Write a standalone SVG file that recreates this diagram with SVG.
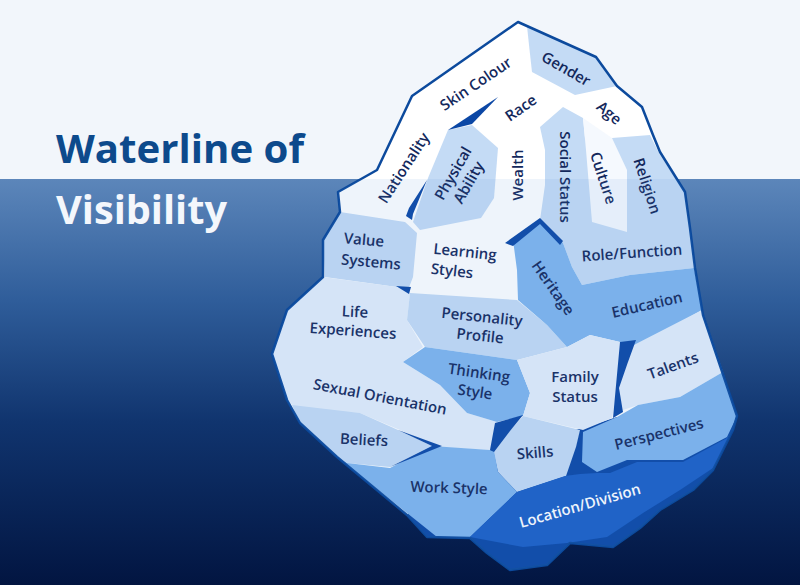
<svg xmlns="http://www.w3.org/2000/svg" width="800" height="585" viewBox="0 0 800 585">
<defs>
<linearGradient id="water" x1="0" y1="0" x2="0" y2="1">
<stop offset="0" stop-color="#5c86ba"/>
<stop offset="0.3" stop-color="#2f5d9a"/>
<stop offset="0.6" stop-color="#10346e"/>
<stop offset="1" stop-color="#021541"/>
</linearGradient>
<clipPath id="berg"><polygon points="518,22 596,57 617,86 642,107 653,135 660,152 685,192 690,228 695,268 703,315 737,416 733,430 713,470 693,490 660,510 640,528 613,547 570,543 547,565 510,570 487,553 470,538 427,537 407,515 337,457 300,423 287,400 272,354 287,310 323,277 323,240 340,212 338,192 377,170 412,96"/></clipPath>
<style>
.lbl{font-family:"Open Sans","Liberation Sans",sans-serif;font-size:15px;font-weight:600;fill:#13285c;text-anchor:middle}
.wt{fill:#ffffff}
.c0{fill:#ffffff}
.c1{fill:#e4eefb}
.c2{fill:#c4dbf5}
.c3{fill:#7fb5ee}
.c4{fill:#1a5ec6}
.cul{fill:#f5f9fe}
.dk{fill:#0b47a5}
.title{font-family:"Open Sans","Liberation Sans",sans-serif;font-size:40px;font-weight:700}
</style>
</defs>
<rect x="0" y="0" width="800" height="179" fill="#f2f6fb"/>
<rect x="0" y="179" width="800" height="406" fill="url(#water)"/>
<g id="title">
<text class="title" x="56" y="163" fill="#0d4a8c" textLength="248" lengthAdjust="spacingAndGlyphs">Waterline of</text>
<text class="title" x="56" y="224" fill="#f4f7fc" textLength="171" lengthAdjust="spacingAndGlyphs">Visibility</text>
</g>
<g id="iceberg-base">
<polygon class="c0" points="518,22 596,57 617,86 642,107 653,135 660,152 685,192 690,228 695,268 703,315 737,416 733,430 713,470 693,490 660,510 640,528 613,547 570,543 547,565 510,570 487,553 470,538 427,537 407,515 337,457 300,423 287,400 272,354 287,310 323,277 323,240 340,212 338,192 377,170 412,96"/>
<polygon class="dk" points="490,450 583,428 617,417 737,416 733,430 713,470 693,490 660,510 640,528 613,547 570,543 547,565 510,570 487,553 470,538 427,537 407,515 440,470"/>
</g>
<g id="node-gender"><polygon class="c2" points="527,26 596,57 617,86 575,95 532,72 529,45"/><text class="lbl" transform="translate(566,69) rotate(30)" y="5">Gender</text></g>
<g id="node-physical-ability"><polygon class="c2" points="448,130 472,125 498,148 494,198 481,218 420,230 413,222 428,178"/>
<text class="lbl" transform="translate(461,178) rotate(-60)"><tspan x="0" y="-4">Physical</tspan><tspan x="0" y="14">Ability</tspan></text></g>
<g id="node-social-religion-role"><polygon class="c2" points="540,127 563,107 583,118 585,138 612,138 650,135 660,155 685,192 690,228 694,268 630,275 582,285 572,267 563,243 540,220 545,185 545,150"/></g>
<g id="node-culture"><polygon class="cul" points="583,118 612,138 627,170 627,232 592,222 586,150"/><text class="lbl" transform="translate(603,178) rotate(72)" y="5">Culture</text></g>
<g id="node-social-status"><text class="lbl" transform="translate(565,177) rotate(90)" y="5">Social Status</text></g>
<g id="node-religion"><text class="lbl" transform="translate(647,186) rotate(72)" y="5">Religion</text></g>
<g id="node-role-function"><text class="lbl" transform="translate(632,253) rotate(-4)" y="5">Role/Function</text></g>
<g id="node-value-systems"><polygon class="c2" points="340,212 405,222 417,233 413,277 408,290 397,287 325,277 323,240"/>
<text class="lbl" transform="translate(364,240) rotate(5)" y="5">Value</text><text class="lbl" transform="translate(371,262) rotate(5)" y="5">Systems</text></g>
<g id="node-life-sexual"><polygon class="c1" points="323,277 397,287 410,293 407,320 423,347 403,362 440,385 467,413 497,422 495,450 490,450 437,447 400,430 360,413 298,410 287,400 272,354 287,310"/></g>
<g id="node-life-experiences"><text class="lbl" transform="translate(355,312) rotate(3)" y="5">Life</text><text class="lbl" transform="translate(353,331) rotate(4)" y="5">Experiences</text></g>
<g id="node-sexual-orientation"><text class="lbl" transform="translate(380,397) rotate(11)" y="5">Sexual Orientation</text></g>
<g id="node-beliefs"><polygon class="c2" points="292,405 360,413 398,430 432,446 390,467 347,463 337,457 300,423"/><text class="lbl" transform="translate(364,440) rotate(3)" y="5">Beliefs</text></g>
<g id="node-personality-profile"><polygon class="c2" points="410,293 517,300 547,325 567,347 517,360 425,347 407,320"/>
<text class="lbl" transform="translate(482,317) rotate(6)" y="5">Personality</text><text class="lbl" transform="translate(480,336) rotate(6)" y="5">Profile</text></g>
<g id="node-heritage-education"><polygon class="c3" points="513,240 540,220 563,243 572,267 582,285 630,275 694,268 702,310 635,348 620,342 590,335 567,347 547,325 518,300 517,270"/></g>
<g id="node-heritage"><text class="lbl" transform="translate(553,288) rotate(55)" y="5">Heritage</text></g>
<g id="node-education"><text class="lbl" transform="translate(647,305) rotate(-13)" y="5">Education</text></g>
<g id="node-thinking-style"><polygon class="c3" points="425,347 517,360 530,393 523,416 497,422 467,413 440,385 403,362"/>
<text class="lbl" transform="translate(479,373) rotate(8)" y="5">Thinking</text><text class="lbl" transform="translate(475,392) rotate(8)" y="5">Style</text></g>
<g id="node-family-status"><polygon class="c1" points="517,360 567,347 590,335 620,342 617,390 612,418 583,430 523,416 530,393"/>
<text class="lbl" x="575" y="382">Family</text><text class="lbl" x="575" y="402">Status</text></g>
<g id="node-talents"><polygon class="c1" points="628,348 702,310 723,372 680,397 638,405 623,410 618,388 628,362"/><text class="lbl" transform="translate(673,366) rotate(-20)" y="5">Talents</text></g>
<g id="node-perspectives"><polygon class="c3" points="583,432 617,417 638,405 680,397 723,372 737,416 727,437 683,460 627,460 597,472 582,462"/><text class="lbl" transform="translate(659,434) rotate(-14)" y="5">Perspectives</text></g>
<g id="node-skills"><polygon class="c2" points="493,450 523,416 580,430 576,447 566,476 517,492 498,472"/><text class="lbl" transform="translate(535,453) rotate(-5)" y="5">Skills</text></g>
<g id="node-work-style"><polygon class="c3" points="337,457 347,463 390,468 432,446 490,450 494,451 498,472 517,492 470,537 437,537 407,513"/><text class="lbl" transform="translate(449,488) rotate(2)" y="5">Work Style</text></g>
<g id="node-location-division"><polygon class="c4" points="517,492 565,476 580,474 597,473 610,473 637,462 683,462 727,438 733,430 713,468 680,490 643,513 607,537 567,543 523,547 470,537"/><text class="lbl wt" transform="translate(580,506) rotate(-16)" y="5">Location/Division</text></g>
<g id="node-top-labels">
<text class="lbl" transform="translate(476,84) rotate(-34)" y="5">Skin Colour</text>
<text class="lbl" transform="translate(521,108) rotate(-35)" y="5">Race</text>
<text class="lbl" transform="translate(609,113) rotate(40)" y="5">Age</text>
<text class="lbl" transform="translate(404,168) rotate(-57)" y="5">Nationality</text>
<text class="lbl" transform="translate(518,175) rotate(-90)" y="5">Wealth</text>
<text class="lbl" transform="translate(465,252) rotate(6)" y="5">Learning</text>
<text class="lbl" transform="translate(452,271) rotate(6)" y="5">Styles</text>
</g>
<g id="notches">
<polygon class="dk" points="448,130 498,97 472,124"/>
<polygon class="dk" points="427,180 409,208 406,216 412,220 413,214"/>
<polygon class="dk" points="505,243 540,218 563,241 560,245 540,224 513,246"/>
<polygon class="dk" points="396,286 411,287 409,294"/>
<polygon class="dk" points="620,342 636,340 628,362 619,388 623,412 613,418"/>
<polygon class="dk" points="495,423 523,415 510,431 494,452 490,450"/>
<polygon class="dk" points="398,430 442,446 390,467 432,446"/>
</g>
<g id="outline"><polygon fill="none" stroke="#0c4a9d" stroke-width="2.5" stroke-linejoin="round" points="518,22 596,57 617,86 642,107 653,135 660,152 685,192 690,228 695,268 703,315 737,416 733,430 713,470 693,490 660,510 640,528 613,547 570,543 547,565 510,570 487,553 470,538 427,537 407,515 337,457 300,423 287,400 272,354 287,310 323,277 323,240 340,212 338,192 377,170 412,96"/></g>
<rect x="0" y="179" width="800" height="406" fill="#5591d7" opacity="0.1" clip-path="url(#berg)"/>
<g id="connectors"></g>
</svg>
